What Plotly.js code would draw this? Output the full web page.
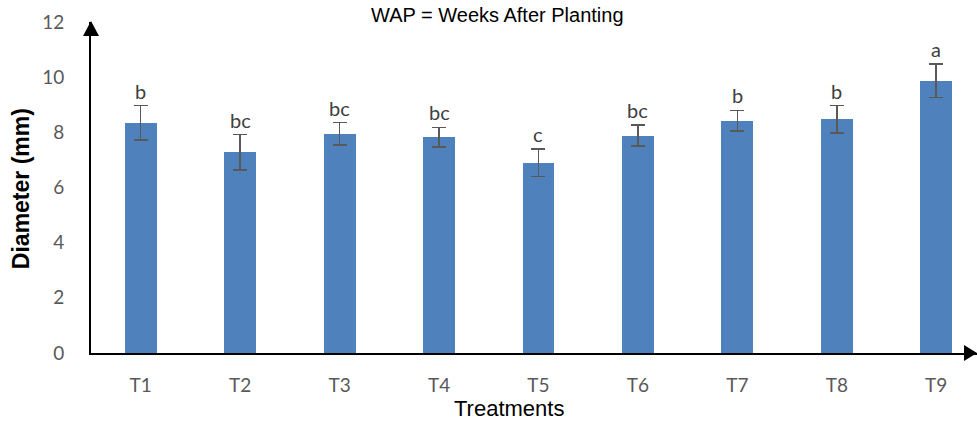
<!DOCTYPE html>
<html>
<head>
<meta charset="utf-8">
<script src="https://cdn.plot.ly/plotly-3.0.1.min.js"></script>
<style>html,body{margin:0;padding:0;background:#fff;}</style>
</head>
<body>
<div id="chart" style="width:977px;height:423px;"></div>
<script>
const categories = ['T1','T2','T3','T4','T5','T6','T7','T8','T9'];
const means = [8.35, 7.28, 7.95, 7.82, 6.90, 7.88, 8.42, 8.47, 9.87];
const errors = [0.62, 0.64, 0.40, 0.36, 0.50, 0.38, 0.38, 0.50, 0.60];
const letters = ['b','bc','bc','bc','c','bc','b','b','a'];
const yTicks = [0, 2, 4, 6, 8, 10, 12];

const trace = {
  type: 'bar',
  x: categories,
  y: means,
  width: 0.32,
  marker: {color: '#4F81BD'},
  error_y: {type: 'data', array: errors, visible: true, color: '#595959', thickness: 1.5, width: 7},
  hoverinfo: 'skip'
};

const tickFont = {family: 'Lato, "Open Sans", sans-serif', size: 19, color: '#595959'};

const annotations = categories.map((c, i) => ({
  x: c, y: means[i] + errors[i], xref: 'x', yref: 'y',
  text: letters[i], showarrow: false, yanchor: 'bottom', yshift: 1,
  font: {family: 'Lato, "Open Sans", sans-serif', size: 20, color: '#404040'}
}));
annotations.push({
  x: 0.459, y: 1, xref: 'paper', yref: 'paper', yanchor: 'bottom', yshift: -6,
  text: 'WAP = Weeks After Planting', showarrow: false,
  font: {family: '"Liberation Sans", Arial, sans-serif', size: 20, color: '#000'}
});
annotations.push({
  x: 0.4718, y: -0.168, xref: 'paper', yref: 'paper', yanchor: 'middle', xanchor: 'center',
  text: 'Treatments', showarrow: false, borderpad: 0,
  font: {family: '"Liberation Sans", Arial, sans-serif', size: 22, color: '#000'}
});
annotations.push({
  x: -0.079, y: 0.495, xref: 'paper', yref: 'paper', yanchor: 'middle', xanchor: 'center',
  text: '<b>Diameter (mm)</b>', showarrow: false, textangle: -90, borderpad: 0,
  font: {family: '"Liberation Sans", Arial, sans-serif', size: 23, color: '#000'}
});

const layout = {
  width: 977, height: 423,
  margin: {l: 91, r: 0, t: 22, b: 70, pad: 0},
  paper_bgcolor: '#fff', plot_bgcolor: '#fff',
  showlegend: false,
  bargap: 0,
  xaxis: {
    type: 'category', range: [-0.5, 8.41],
    showline: true, linecolor: '#000', linewidth: 2,
    showgrid: false, zeroline: false, ticks: '',
    tickfont: tickFont, ticklabelstandoff: 14
  },
  yaxis: {
    range: [0, 12], tickvals: yTicks, ticktext: yTicks.map(String),
    showline: true, linecolor: '#000', linewidth: 2,
    showgrid: false, zeroline: false, ticks: '',
    tickfont: tickFont, ticklabelstandoff: 21
  },
  shapes: [
    {type: 'path', xref: 'paper', yref: 'paper', xsizemode: 'pixel', ysizemode: 'pixel',
     xanchor: 0, yanchor: 1, path: 'M -8 -14 L 8 -14 L 0 1 Z', fillcolor: '#000', line: {width: 0}},
    {type: 'path', xref: 'paper', yref: 'paper', xsizemode: 'pixel', ysizemode: 'pixel',
     xanchor: 1, yanchor: 0, path: 'M -13 -8 L -13 8 L 0 0 Z', fillcolor: '#000', line: {width: 0}}
  ],
  annotations: annotations
};

Plotly.newPlot('chart', [trace], layout, {displayModeBar: false, staticPlot: true});
</script>
</body>
</html>
